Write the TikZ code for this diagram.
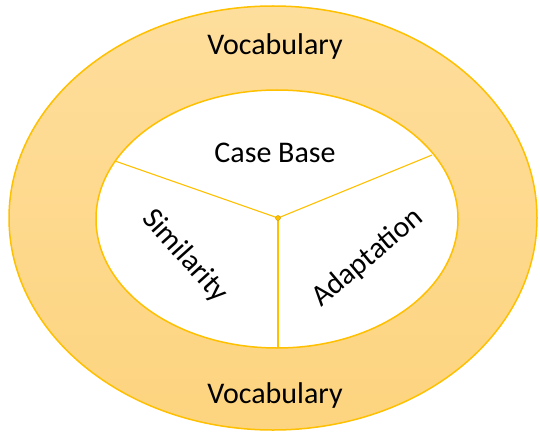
\documentclass[tikz,border=0pt]{standalone}
\usepackage{fontspec}
\setmainfont{Carlito}
\definecolor{ringline}{HTML}{FFC000}
\definecolor{ringtop}{HTML}{FEDE9C}
\definecolor{ringbot}{HTML}{FDD47F}
\tikzset{
  lbl/.style={font=\fontsize{30}{35}\selectfont, text=black, inner sep=0pt},
  spoke/.style={draw=ringline, line width=1.1pt},
}
\begin{document}
\begin{tikzpicture}[x=1pt,y=-1pt]
\useasboundingbox (0,0) rectangle (540,433);
\shade[top color=ringtop, bottom color=ringbot, draw=ringline, line width=1.5pt]
  (273,218) ellipse [x radius=264, y radius=212];
\fill[white, draw=ringline, line width=1.5pt]
  (277,219) ellipse [x radius=181, y radius=129];
\coordinate (c) at (278,218);
\coordinate (l) at (115,161);
\coordinate (r) at (432,155);
\coordinate (b) at (278,348);
\draw[spoke] (c) -- (l);
\draw[spoke] (c) -- (r);
\draw[spoke] (c) -- (b);
\node[circle, fill=ringline, draw=ringline!80!black, line width=0.4pt, minimum size=5pt, inner sep=0pt] (dot) at (c) {};
\node[lbl] (voct) at (275,47) {Vocabulary};
\node[lbl] (vocb) at (275,395) {Vocabulary};
\node[lbl] (cb) at (275,153) {Case Base};
\node[lbl, rotate=-48] (sim) at (185,256) {Similarity};
\node[lbl, rotate=40] (ad) at (368,258) {Adaptation};
\end{tikzpicture}
\end{document}
